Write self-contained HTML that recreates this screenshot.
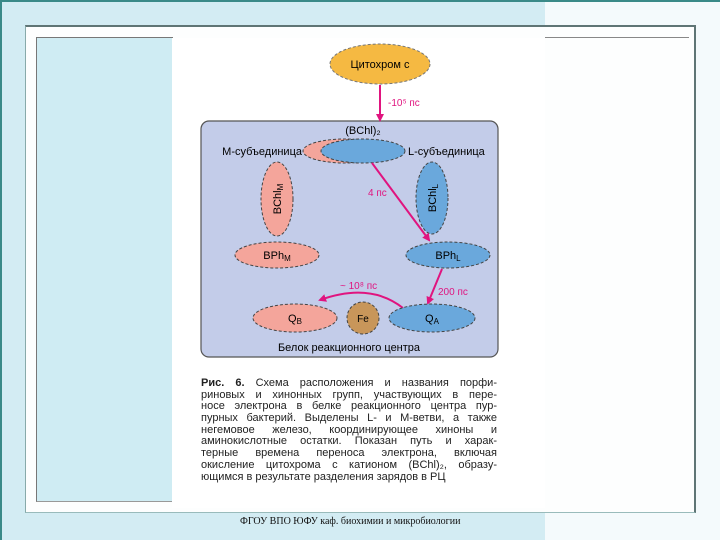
<!DOCTYPE html>
<html><head><meta charset="utf-8"><style>
body{margin:0;width:720px;height:540px;overflow:hidden;background:#d3ecf3;position:relative;font-family:"Liberation Sans",sans-serif}
.a{position:absolute}
.c div{text-align:justify;text-align-last:justify;white-space:nowrap;height:11.7px}
</style></head><body>
<div class="a" style="left:0;top:0;width:2px;height:540px;background:#3a8a88"></div>
<div class="a" style="left:0;top:0;width:720px;height:2px;background:#3a8a88"></div>
<div class="a" style="left:545px;top:2px;width:175px;height:538px;background:#f4fafc"></div>
<div class="a" style="left:25px;top:25px;width:668px;height:485px;border-top:2px solid #5f7575;border-left:1px solid #8aa;border-right:2px solid #5f7575;border-bottom:1px solid #9bb;background:#fdfefe"></div>
<div class="a" style="left:36px;top:37px;width:136px;height:463px;border-top:1px solid #777;border-left:1px solid #777;border-bottom:1px solid #999;background:#cfecf3"></div>
<div class="a" style="left:172px;top:38px;width:373px;height:470px;background:#fff"></div>
<div class="a" style="left:545px;top:37px;width:144px;height:1px;background:#888"></div>
<svg class="a" style="left:0;top:0" width="720" height="540" font-family="Liberation Sans, sans-serif">
<defs><marker id="m" markerWidth="8" markerHeight="8" refX="6" refY="4" orient="auto" markerUnits="userSpaceOnUse"><path d="M0,0 L8,4 L0,8 Z" fill="#e0147f"/></marker></defs>
<rect x="201" y="121" width="297" height="236" rx="8" fill="#c3cce9" stroke="#555" stroke-width="1.2"/>
<ellipse cx="380" cy="64" rx="50" ry="20" fill="#f5b942" stroke="#777" stroke-dasharray="3,2"/>
<text x="380" y="68" font-size="11" text-anchor="middle">Цитохром с</text>
<line x1="380" y1="85" x2="380" y2="120" stroke="#e0147f" stroke-width="2" marker-end="url(#m)"/>
<text x="388" y="106" font-size="10" fill="#e0147f">-10⁵ пс</text>
<text x="363" y="134" font-size="11" text-anchor="middle">(BChl)₂</text>
<ellipse cx="345" cy="151" rx="42" ry="12" fill="#f4a59b" stroke="#444" stroke-dasharray="3,2"/>
<ellipse cx="363" cy="151" rx="42" ry="12" fill="#6aa8dc" stroke="#444" stroke-dasharray="3,2"/>
<text x="302" y="155" font-size="11" text-anchor="end">М-субъединица</text>
<text x="408" y="155" font-size="11">L-субъединица</text>
<ellipse cx="277" cy="199" rx="16" ry="37" fill="#f4a59b" stroke="#444" stroke-dasharray="3,2"/>
<text font-size="11" transform="translate(281,199) rotate(-90)" text-anchor="middle">BChl<tspan font-size="8" dy="2">M</tspan></text>
<ellipse cx="432" cy="198" rx="16" ry="36" fill="#6aa8dc" stroke="#444" stroke-dasharray="3,2"/>
<text font-size="11" transform="translate(436,198) rotate(-90)" text-anchor="middle">BChl<tspan font-size="8" dy="2">L</tspan></text>
<ellipse cx="277" cy="255" rx="42" ry="13" fill="#f4a59b" stroke="#444" stroke-dasharray="3,2"/>
<text x="277" y="259" font-size="11" text-anchor="middle">BPh<tspan font-size="8" dy="2">M</tspan></text>
<ellipse cx="448" cy="255" rx="42" ry="13" fill="#6aa8dc" stroke="#444" stroke-dasharray="3,2"/>
<text x="448" y="259" font-size="11" text-anchor="middle">BPh<tspan font-size="8" dy="2">L</tspan></text>
<line x1="372" y1="163" x2="429" y2="240" stroke="#e0147f" stroke-width="2" marker-end="url(#m)"/>
<text x="368" y="196" font-size="10" fill="#e0147f">4 пс</text>
<line x1="442" y1="269" x2="428" y2="303" stroke="#e0147f" stroke-width="2" marker-end="url(#m)"/>
<text x="438" y="295" font-size="10" fill="#e0147f">200 пс</text>
<path d="M403,308 Q370,282 320,300" fill="none" stroke="#e0147f" stroke-width="2" marker-end="url(#m)"/>
<text x="340" y="289" font-size="10" fill="#e0147f">~ 10⁸ пс</text>
<ellipse cx="295" cy="318" rx="42" ry="14" fill="#f4a59b" stroke="#444" stroke-dasharray="3,2"/>
<text x="295" y="322" font-size="11" text-anchor="middle">Q<tspan font-size="8" dy="2">B</tspan></text>
<circle cx="363" cy="318" r="16" fill="#c8965a" stroke="#444" stroke-dasharray="3,2"/>
<text x="363" y="322" font-size="10" text-anchor="middle">Fe</text>
<ellipse cx="432" cy="318" rx="43" ry="14" fill="#6aa8dc" stroke="#444" stroke-dasharray="3,2"/>
<text x="432" y="322" font-size="11" text-anchor="middle">Q<tspan font-size="8" dy="2">A</tspan></text>
<text x="349" y="351" font-size="11" text-anchor="middle">Белок реакционного центра</text>
</svg>
<div class="a c" style="left:201px;top:378px;width:296px;font-size:11px;line-height:11.7px;color:#222">
<div><b>Рис. 6.</b> Схема расположения и названия порфи-</div>
<div>риновых и хинонных групп, участвующих в пере-</div>
<div>носе электрона в белке реакционного центра пур-</div>
<div>пурных бактерий. Выделены L- и М-ветви, а также</div>
<div>негемовое железо, координирующее хиноны и</div>
<div>аминокислотные остатки. Показан путь и харак-</div>
<div>терные времена переноса электрона, включая</div>
<div>окисление цитохрома с катионом (BChl)₂, образу-</div>
<div style="text-align-last:left">ющимся в результате разделения зарядов в РЦ</div>
</div>
<div class="a" style="left:240px;top:516px;font-family:'Liberation Serif',serif;font-size:10px;color:#111">ФГОУ ВПО ЮФУ каф. биохимии и микробиологии</div>
</body></html>
